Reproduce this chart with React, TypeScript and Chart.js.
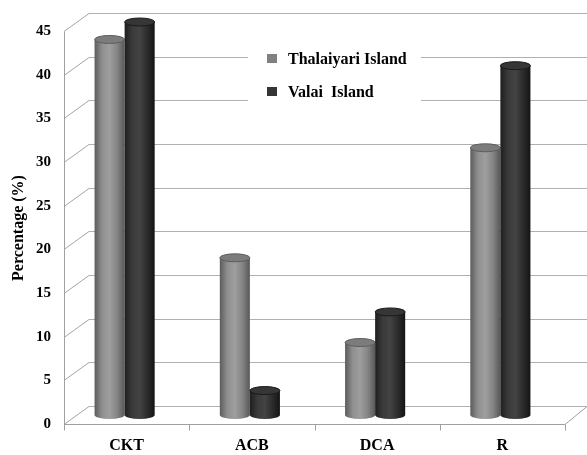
import React, { useEffect, useRef } from "react";
import { Chart, registerables } from "chart.js";

Chart.register(...registerables);

const categories = ["CKT", "ACB", "DCA", "R"];
const seriesNames = ["Thalaiyari Island", "Valai  Island"];
const thalaiyari = [43, 18, 8.3, 30.6];
const valai = [45, 2.8, 11.8, 40];
const yMin = 0;
const yMax = 45;
const yStep = 5;
const yTitle = "Percentage (%)";

const FONT = "'Times New Roman', 'Liberation Serif', serif";
const DX = 12.5; // half depth offset x
const DY = 9; // half depth offset y

const styles = [
  { stops: ["#5c5c5c", "#8f8f8f", "#9e9e9e", "#858585", "#585858"], cap: "#7c7c7c", rim: "#5e5e5e", swatch: "#808080" },
  { stops: ["#1e1e1e", "#3a3a3a", "#434343", "#2c2c2c", "#141414"], cap: "#363636", rim: "#1a1a1a", swatch: "#353535" },
];

const framePlugin = {
  id: "frame3d",
  beforeDatasetsDraw(chart: any) {
    const { ctx, chartArea, scales } = chart;
    const y = scales.y;
    const x = scales.x;
    const left = chartArea.left;
    const right = chartArea.right;
    const W = chart.width;
    ctx.save();
    ctx.lineWidth = 1;
    for (let v = yMin; v <= yMax; v += yStep) {
      const ym = Math.round(y.getPixelForValue(v)) + 0.5;
      ctx.strokeStyle = "#b0b0b0";
      ctx.beginPath();
      ctx.moveTo(left + 2 * DX, ym - DY);
      ctx.lineTo(W, ym - DY);
      ctx.stroke();
      ctx.strokeStyle = "#a4a4a4";
      ctx.beginPath();
      ctx.moveTo(left, ym + DY);
      ctx.lineTo(left + 2 * DX, ym - DY);
      ctx.stroke();
    }
    const base = Math.round(y.getPixelForValue(0)) + 0.5;
    ctx.strokeStyle = "#a0a0a0";
    ctx.beginPath();
    ctx.moveTo(left, base + DY);
    ctx.lineTo(right, base + DY);
    ctx.lineTo(right + 2 * DX - 3, base - DY);
    ctx.stroke();
    const top = Math.round(y.getPixelForValue(yMax)) + 0.5;
    ctx.beginPath();
    ctx.moveTo(Math.round(left) + 0.5, top + DY);
    ctx.lineTo(Math.round(left) + 0.5, base + DY);
    ctx.stroke();
    for (let i = 0; i <= categories.length; i++) {
      const cx = Math.round(x.getPixelForValue(i - 0.5)) + 0.5;
      ctx.beginPath();
      ctx.moveTo(cx, base + DY);
      ctx.lineTo(cx, base + DY + 6);
      ctx.stroke();
    }
    ctx.fillStyle = "#000";
    ctx.font = `bold 16px ${FONT}`;
    ctx.textAlign = "center";
    ctx.textBaseline = "middle";
    ctx.translate(19, (top + base) / 2 + DY);
    ctx.rotate(-Math.PI / 2);
    ctx.fillText(yTitle, 0, 0);
    ctx.restore();

    ctx.save();
    ctx.fillStyle = "#ffffff";
    ctx.fillRect(248, 36, 173, 78);
    ctx.font = `bold 16px ${FONT}`;
    ctx.textAlign = "left";
    ctx.textBaseline = "middle";
    const rows = [59, 92];
    seriesNames.forEach((name, i) => {
      ctx.fillStyle = styles[i].swatch;
      ctx.fillRect(267, rows[i] - 5, 10, 9);
      ctx.fillStyle = "#000";
      ctx.fillText(name, 288, rows[i] + 1);
    });
    ctx.restore();
  },
  afterDatasetsDraw(chart: any) {
    const { ctx } = chart;
    chart.data.datasets.forEach((ds: any, di: number) => {
      const meta = chart.getDatasetMeta(di);
      const st = styles[di];
      meta.data.forEach((el: any) => {
        const { x: bx, y, base, width } = el.getProps(["x", "y", "base", "width"], true);
        const x = bx - 2;
        const l = x - width / 2;
        const rx = width / 2;
        const ry = 4;
        const g = ctx.createLinearGradient(l, 0, l + width, 0);
        st.stops.forEach((c: string, k: number) => g.addColorStop(k / (st.stops.length - 1), c));
        ctx.save();
        ctx.fillStyle = g;
        ctx.beginPath();
        ctx.moveTo(l, y);
        ctx.lineTo(l, base);
        ctx.ellipse(x, base, rx, ry, 0, Math.PI, 0, true);
        ctx.lineTo(l + width, y);
        ctx.closePath();
        ctx.fill();
        ctx.beginPath();
        ctx.ellipse(x, y, rx, ry, 0, 0, Math.PI * 2);
        ctx.fillStyle = st.cap;
        ctx.fill();
        ctx.strokeStyle = st.rim;
        ctx.lineWidth = 1;
        ctx.stroke();
        ctx.restore();
      });
    });
  },
};

export default function App() {
  const ref = useRef<HTMLCanvasElement | null>(null);
  useEffect(() => {
    if (!ref.current) return;
    const chart = new Chart(ref.current, {
      type: "bar",
      data: {
        labels: categories,
        datasets: [
          { label: seriesNames[0], data: thalaiyari, backgroundColor: "rgba(0,0,0,0)", categoryPercentage: 0.48, barPercentage: 1 },
          { label: seriesNames[1], data: valai, backgroundColor: "rgba(0,0,0,0)", categoryPercentage: 0.48, barPercentage: 1 },
        ],
      },
      options: {
        responsive: false,
        animation: false,
        devicePixelRatio: 1,
        layout: { padding: { top: 18, right: 22, left: 0, bottom: 0 } },
        plugins: { legend: { display: false }, tooltip: { enabled: false }, title: { display: false } },
        scales: {
          x: {
            grid: { display: false, drawTicks: false },
            border: { display: false },
            ticks: { color: "#000", font: { family: FONT, size: 16, weight: "bold" }, padding: 21 },
            afterFit: (s: any) => { s.height = 40; },
          },
          y: {
            min: yMin,
            max: yMax,
            grid: { display: false, drawTicks: false },
            border: { display: false },
            ticks: { stepSize: yStep, color: "#000", font: { family: FONT, size: 15, weight: "bold" }, padding: 13, labelOffset: DY },
            afterFit: (s: any) => { s.width = 64; },
          },
        },
      },
      plugins: [framePlugin],
    });
    return () => chart.destroy();
  }, []);
  return (
    <div style={{ position: "absolute", left: 0, top: 0, width: 587, height: 455, background: "#fff" }}>
      <canvas ref={ref} width={587} height={455} />
    </div>
  );
}
